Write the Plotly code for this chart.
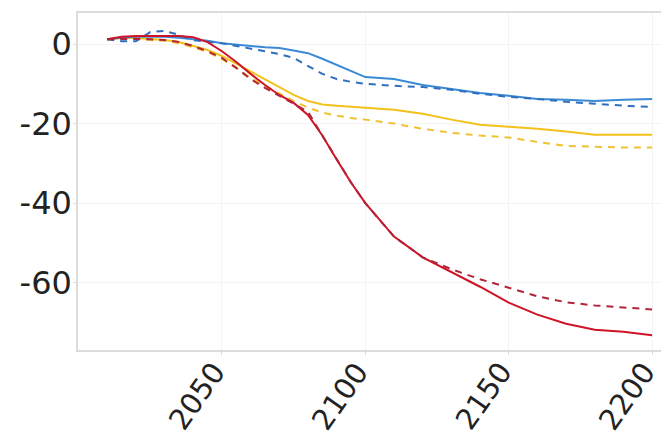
import plotly.graph_objects as go

# Years sampled along the projection
years = [2010, 2015, 2020, 2025, 2030, 2035, 2040, 2045, 2050, 2055, 2060, 2065,
         2070, 2075, 2080, 2085, 2090, 2095, 2100, 2110, 2120, 2130, 2140, 2150,
         2160, 2170, 2180, 2190, 2200]

# Percentage change per scenario (solid / dashed variants)
blue_solid = [1.2, 1.6, 1.8, 1.8, 1.8, 1.6, 1.2, 0.8, 0.2, -0.2, -0.5, -0.8,
              -1.0, -1.6, -2.3, -3.7, -5.3, -6.8, -8.3, -8.8, -10.3, -11.3, -12.3, -13.0,
              -13.8, -14.0, -14.3, -14.0, -13.8]
blue_dash = [1.2, 0.7, 0.7, 3.0, 3.3, 2.3, 1.0, 0.5, 0.2, -0.5, -1.2, -1.8,
             -2.5, -3.5, -5.5, -7.5, -8.8, -9.5, -10.0, -10.5, -10.8, -11.5, -12.5, -13.3,
             -13.8, -14.5, -15.0, -15.5, -15.8]
yellow_solid = [1.2, 1.5, 1.5, 1.3, 1.0, 0.5, -0.5, -1.5, -3.0, -5.0, -7.0, -9.0,
                -11.0, -12.8, -14.3, -15.2, -15.5, -15.8, -16.0, -16.5, -17.5, -19.0, -20.3, -20.8,
                -21.3, -22.0, -22.8, -22.8, -22.8]
yellow_dash = [1.2, 1.2, 1.2, 1.0, 0.8, 0.2, -0.8, -2.0, -3.8, -6.0, -8.5, -10.5,
               -12.5, -14.3, -16.0, -17.2, -18.0, -18.6, -19.0, -20.0, -21.3, -22.3, -23.0, -23.5,
               -24.6, -25.6, -25.8, -26.0, -26.0]
red_solid = [1.2, 1.8, 2.0, 2.0, 2.0, 2.0, 1.7, 0.5, -1.8, -4.5, -7.5, -10.3,
             -12.8, -14.8, -17.8, -23.0, -29.0, -34.8, -40.0, -48.4, -53.6, -57.3, -61.0, -65.0,
             -68.0, -70.3, -71.8, -72.3, -73.2]
red_dash = [1.2, 1.3, 1.3, 1.2, 1.0, 0.5, -0.5, -1.8, -3.5, -6.0, -8.8, -11.0,
            -13.0, -15.0, -17.0, -23.0, -29.0, -34.8, -40.0, -48.4, -53.6, -56.6, -59.1, -61.2,
            -63.4, -64.9, -65.7, -66.2, -66.7]

x_ticks = [2050, 2100, 2150, 2200]
y_ticks = [0, -20, -40, -60]

series = [
    (yellow_solid, "#f2c21b", "solid"),
    (yellow_dash, "#f0c232", "7px,6px"),
    (blue_solid, "#3a8ad6", "solid"),
    (blue_dash, "#2f6fc0", "7px,6px"),
    (red_solid, "#cf1426", "solid"),
    (red_dash, "#b3243a", "7px,6px"),
]

fig = go.Figure()
for vals, color, dash in series:
    fig.add_trace(go.Scatter(x=years, y=vals, mode="lines",
                             line=dict(color=color, width=2, dash=dash),
                             showlegend=False))

tick_font = dict(family="DejaVu Sans, Verdana, sans-serif", size=32, color="#222")
year_font = dict(family="DejaVu Sans, Verdana, sans-serif", size=29, color="#222")
axis_common = dict(showline=True, linecolor="#dcdcdc", linewidth=1.5, mirror=True,
                   showgrid=True, gridcolor="#f4f4f4", gridwidth=1, zeroline=False,
                   ticks="outside", ticklen=3, tickcolor="#dcdcdc",
                   tickfont=tick_font, automargin=False)

# Rotated year labels under the x axis, placed as annotations so they stay inside the page
for t in x_ticks:
    fig.add_annotation(x=t, xref="x", y=0, yref="paper", text=str(t),
                       textangle=-55, showarrow=False, font=year_font,
                       xanchor="center", yanchor="middle", xshift=-25, yshift=-46)

fig.update_layout(
    width=661, height=441,
    margin=dict(l=78, r=0, t=13, b=91),
    paper_bgcolor="white", plot_bgcolor="white",
    xaxis=dict(range=[1999.8, 2203.1], tickvals=x_ticks, showticklabels=False, **axis_common),
    yaxis=dict(range=[-76.9, 7.8], tickvals=y_ticks, ticktext=[str(t) for t in y_ticks],
               ticklabelstandoff=-5, **axis_common),
)

fig.write_html("out.html")
